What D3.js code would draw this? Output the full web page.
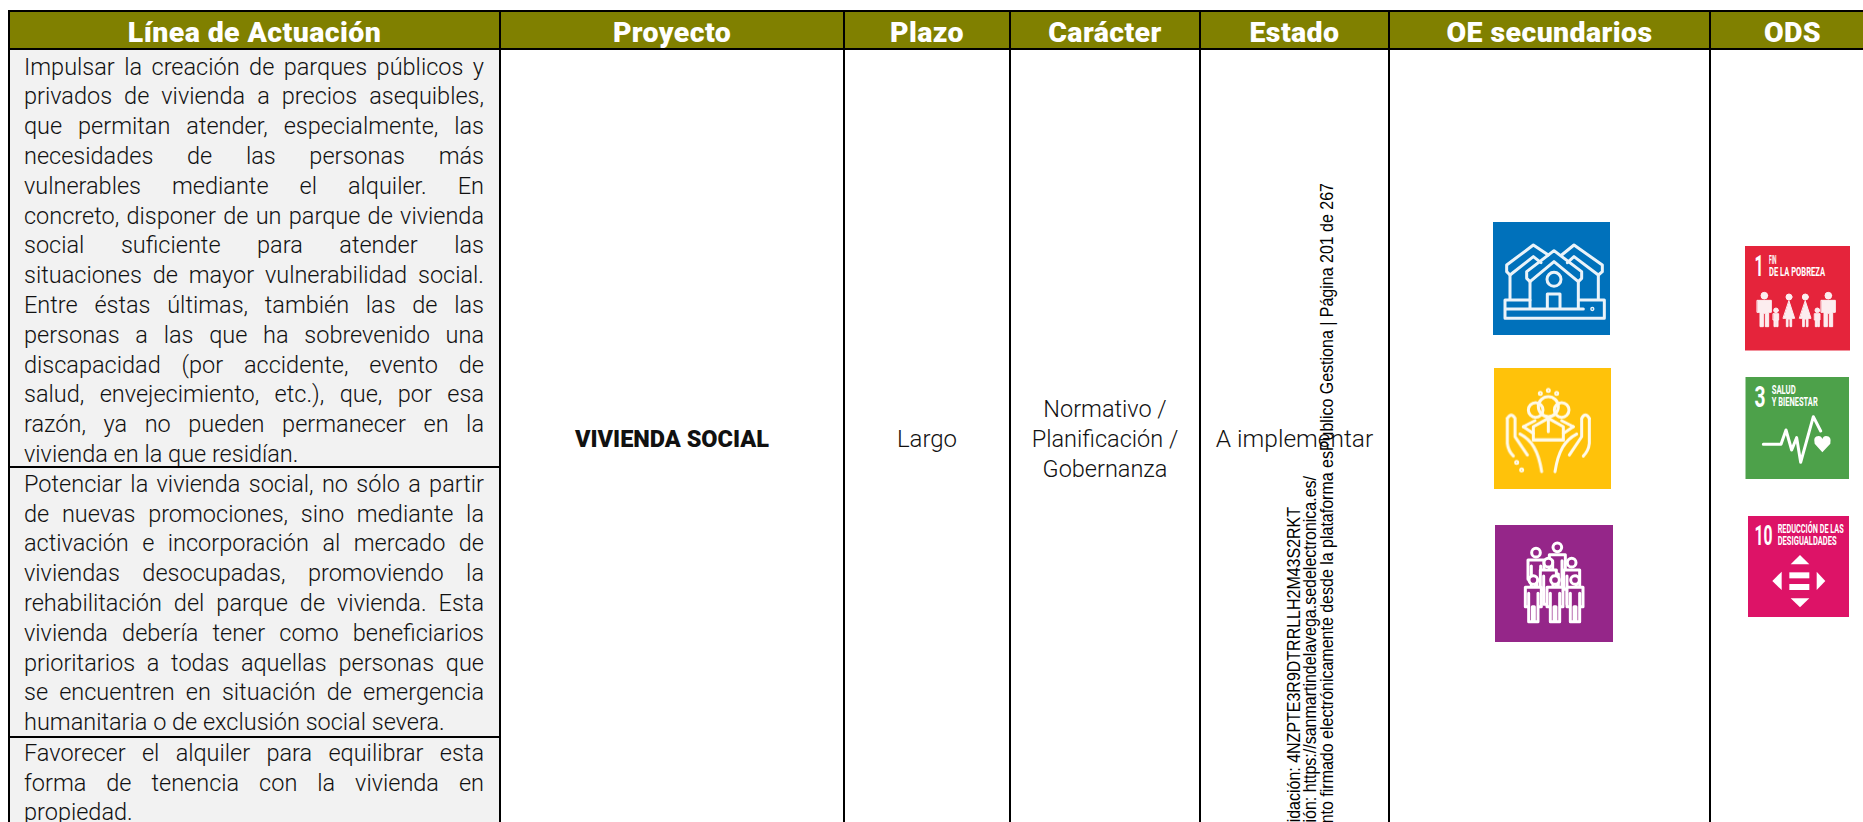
<!DOCTYPE html>
<html>
<head>
<meta charset="utf-8">
<script src="https://cdn.jsdelivr.net/npm/d3@7"></script>
<style>
  html, body { margin: 0; padding: 0; background: #fff; overflow: hidden; }
  svg { display: block; }
  text { font-family: Roboto, sans-serif; }
</style>
</head>
<body>
<script>
const headers = ["Línea de Actuación", "Proyecto", "Plazo", "Carácter", "Estado", "OE secundarios", "ODS"];

const linea1 = [
  "Impulsar la creación de parques públicos y",
  "privados de vivienda a precios asequibles,",
  "que permitan atender, especialmente, las",
  "necesidades de las personas más",
  "vulnerables mediante el alquiler. En",
  "concreto, disponer de un parque de vivienda",
  "social suficiente para atender las",
  "situaciones de mayor vulnerabilidad social.",
  "Entre éstas últimas, también las de las",
  "personas a las que ha sobrevenido una",
  "discapacidad (por accidente, evento de",
  "salud, envejecimiento, etc.), que, por esa",
  "razón, ya no pueden permanecer en la",
  "vivienda en la que residían."
];
const linea2 = [
  "Potenciar la vivienda social, no sólo a partir",
  "de nuevas promociones, sino mediante la",
  "activación e incorporación al mercado de",
  "viviendas desocupadas, promoviendo la",
  "rehabilitación del parque de vivienda. Esta",
  "vivienda debería tener como beneficiarios",
  "prioritarios a todas aquellas personas que",
  "se encuentren en situación de emergencia",
  "humanitaria o de exclusión social severa."
];
const linea3 = [
  "Favorecer el alquiler para equilibrar esta",
  "forma de tenencia con la vivienda en",
  "propiedad."
];
const proyecto = ["VIVIENDA SOCIAL"];
const plazo = ["Largo"];
const caracter = ["Normativo /", "Planificación /", "Gobernanza"];
const estado = ["A implementar"];
const watermark = [
  "Código Validación: 4NZPTE3R9DTRRLLH2M43S2RKT",
  "Verificación: https://sanmartindelavega.sedelectronica.es/",
  "Documento firmado electrónicamente desde la plataforma esPublico Gestiona | Página 201 de 267"
];

const width = 1863, height = 822;

// column edges, piecewise over the column index
const colX = d3.scaleLinear().domain(d3.range(8)).range([9, 500, 844, 1010, 1200, 1389, 1710, 1875]);
const colMid = i => (colX(i) + colX(i + 1)) / 2;
// baseline of text line n, line pitch of the source document
const lineY = d3.scaleLinear().domain([0, 1]).range([0, 29.8]);

const tableTop = 11, headBottom = 49, row2Top = 467, row3Top = 737;

const svg = d3.select("body").append("svg").attr("width", width).attr("height", height);

const defs = svg.append("defs");
defs.append("filter").attr("id", "soft").append("feGaussianBlur").attr("stdDeviation", 1.5);

// backgrounds
svg.append("rect").attr("x", colX(0)).attr("y", tableTop).attr("width", width - colX(0) + 5).attr("height", headBottom - tableTop).attr("fill", "#808000");
svg.append("rect").attr("x", colX(0)).attr("y", headBottom).attr("width", colX(1) - colX(0)).attr("height", height - headBottom).attr("fill", "#f2f2f2");

svg.selectAll("text.head").data(headers).join("text")
  .attr("class", "head")
  .attr("x", (d, i) => colMid(i))
  .attr("y", 41.5)
  .attr("text-anchor", "middle")
  .attr("font-size", 28.5)
  .attr("font-weight", 900)
  .attr("letter-spacing", 0.4)
  .attr("fill", "#fff")
  .text(d => d);

// justified text of the first column
function paragraph(lines, firstBaseline) {
  const x0 = 24, x1 = 484;
  svg.append("g").selectAll("text").data(lines).join("text")
    .attr("x", x0)
    .attr("y", (d, i) => firstBaseline + lineY(i))
    .attr("font-size", 23.5)
    .attr("font-weight", 300)
    .attr("fill", "#111")
    .text(d => d)
    .each(function(d, i) {
      if (i === lines.length - 1) return;
      const gaps = d.split(" ").length - 1;
      const natural = this.getComputedTextLength();
      d3.select(this).attr("word-spacing", (x1 - x0 - natural) / gaps);
    });
}
paragraph(linea1, 74.5);
paragraph(linea2, 491.7);
paragraph(linea3, 760.7);

// centred cells
function centred(lines, col, mid, opts = {}) {
  svg.append("g").selectAll("text").data(lines).join("text")
    .attr("x", colMid(col))
    .attr("y", (d, i) => mid + lineY(i - (lines.length - 1) / 2) + 8)
    .attr("text-anchor", "middle")
    .attr("font-size", opts.size || 23.5)
    .attr("font-weight", opts.weight || 300)
    .attr("fill", "#111")
    .text(d => d);
}
centred(proyecto, 1, 439, { size: 23.5, weight: 900 });
centred(plazo, 2, 439, { size: 24 });
centred(caracter, 3, 439);
centred(estado, 4, 439, { size: 24.5 });

// grid lines
const vLines = d3.range(0, 7);
svg.selectAll("line.v").data(vLines).join("line")
  .attr("class", "v")
  .attr("x1", d => colX(d)).attr("x2", d => colX(d))
  .attr("y1", tableTop - 1).attr("y2", height)
  .attr("stroke", "#000").attr("stroke-width", 2);
svg.selectAll("line.h").data([tableTop, headBottom]).join("line")
  .attr("class", "h")
  .attr("x1", colX(0)).attr("x2", width)
  .attr("y1", d => d).attr("y2", d => d)
  .attr("stroke", "#000").attr("stroke-width", 2);
svg.selectAll("line.r").data([row2Top, row3Top]).join("line")
  .attr("class", "r")
  .attr("x1", colX(0)).attr("x2", colX(1))
  .attr("y1", d => d).attr("y2", d => d)
  .attr("stroke", "#000").attr("stroke-width", 2);

// tile with white artwork. Artwork is written in the 3x crop coordinates,
// so ox/oy are the crop corner.
function tile(x, y, w, h, color, ox, oy) {
  svg.append("rect").attr("x", x).attr("y", y).attr("width", w).attr("height", h).attr("fill", color);
  return svg.append("g")
    .attr("transform", `translate(${ox},${oy}) scale(${1 / 3})`)
    .attr("fill", "none").attr("stroke", "#fff").attr("stroke-linejoin", "round").attr("stroke-linecap", "round");
}
const soft = g => g.append("g").attr("filter", "url(#soft)").attr("stroke-width", 9).attr("opacity", 0.92);

// OE 1: houses
const house = soft(tile(1493, 222, 117, 113, "#0071bb", 1470, 210));
house.selectAll("path").data([
  "M120,268V195L110,185V165L190,105L235,135",
  "M120,195L190,140L213,158",
  "M385,268V195L397,185V165L312,105L275,135",
  "M385,195L312,140L292,158",
  "M180,295V215L170,205V185L252,122L335,185V205L325,215V295",
  "M180,215L252,155L325,215",
  "M232,295V252H270V295",
  "M105,270H180M325,270H403V325H105V270M105,297H340"
]).join("path").attr("d", d => d);
house.append("circle").attr("cx", 252).attr("cy", 208).attr("r", 21);
house.append("circle").attr("cx", 367).attr("cy", 297).attr("r", 2);

// OE 2: hands holding people
const hands = soft(tile(1494, 368, 117, 121, "#ffc20a", 1470, 210));
const handPaths = [
  "M112,625Q124,605 135,625V680L172,735",
  "M112,625V700Q114,722 130,738",
  "M150,672C185,690 205,722 215,785"
];
hands.selectAll("path.l").data(handPaths).join("path").attr("class", "l").attr("d", d => d);
hands.selectAll("path.r").data(handPaths).join("path").attr("class", "r").attr("d", d => d)
  .attr("transform", "translate(470,0) scale(-1,1)");
hands.selectAll("circle").data([[235, 590, 30], [197, 600, 22], [275, 600, 22], [235, 541, 3], [211, 550, 3], [260, 550, 3], [140, 757, 3], [155, 780, 3]])
  .join("circle").attr("cx", d => d[0]).attr("cy", d => d[1]).attr("r", d => d[2]);
hands.selectAll("path.b").data([
  "M190,690V650L235,625L280,650V690Z",
  "M160,650L195,632M310,650L275,632",
  "M160,650L190,670M310,650L280,670",
  "M235,625V665M190,690H280"
]).join("path").attr("class", "b").attr("d", d => d);

// OE 3: group of people, crop starts at 1470,500. Drawn back to front,
// the purple fill hides the legs of the back row.
const people = soft(tile(1495, 525, 118, 117, "#952689", 1470, 500)).attr("fill", "#952689").attr("opacity", 1);
const crowd = [[198, 158], [262, 142], [305, 188], [235, 188], [190, 240], [255, 240], [315, 240]];
const figure = people.selectAll("g").data(crowd).join("g")
  .attr("transform", d => `translate(${d[0]},${d[1]})`);
figure.append("path")
  .attr("d", "M-24,22H24V80H14V125H3V80H-3V125H-14V80H-24Z M-14,40V80 M14,40V80");
figure.append("circle").attr("r", 13);

// small condensed caption of the ODS tiles
function odsLabel(g, x, y, w, size, label) {
  g.append("text")
    .attr("x", x).attr("y", y)
    .attr("textLength", w).attr("lengthAdjust", "spacingAndGlyphs")
    .attr("font-size", size).attr("font-weight", 700)
    .attr("fill", "#fff")
    .text(label);
}
const odsText = svg.append("g");

// ODS 1
const red = soft(tile(1745, 246, 105, 104.5, "#e5243b", 1700, 235)).attr("stroke-width", 3).attr("fill", "#fff");
red.selectAll("circle").data([[193, 182, 10], [267, 186, 9], [316, 186, 9], [385, 182, 10], [228, 226, 7], [352, 226, 7]])
  .join("circle").attr("cx", d => d[0]).attr("cy", d => d[1]).attr("r", d => d[2]);
red.selectAll("path").data([
  "M172,196H214V232H206V275H196V235H190V275H180V232H172Z",
  "M267,198L284,250H275V275H270V252H264V275H259V250H250Z",
  "M316,198L333,250H324V275H319V252H313V275H308V250H299Z",
  "M364,196H406V232H398V275H388V235H382V275H372V232H364Z",
  "M220,236H236V255H234V275H229V258H227V275H222V255H220Z",
  "M344,236H360V255H358V275H353V258H351V275H346V255H344Z"
]).join("path").attr("d", d => d);
odsLabel(odsText, 1754.5, 275.7, 9, 29, "1");
odsLabel(odsText, 1769, 264.3, 7.5, 12.5, "FIN");
odsLabel(odsText, 1769, 276, 56, 12.5, "DE LA POBREZA");

// ODS 3
const green = tile(1745.5, 377, 103.5, 102, "#4da14a", 1700, 365).attr("stroke-width", 9);
green.append("path").attr("d", "M190,238H243L258,195L275,255L290,218L302,292L340,155L362,198");
green.append("path").attr("stroke-width", 0).attr("fill", "#fff")
  .attr("d", "M367,262L344,236Q338,214 356,213Q364,213 367,222Q370,213 378,213Q396,214 391,236Z");
odsLabel(odsText, 1754.5, 406.7, 11, 29, "3");
odsLabel(odsText, 1771.7, 394.3, 24, 12.5, "SALUD");
odsLabel(odsText, 1771.7, 405.7, 46, 12.5, "Y BIENESTAR");

// ODS 10
const pink = tile(1748, 516, 101, 101, "#dd1367", 1700, 365).attr("stroke-width", 0).attr("fill", "#fff");
pink.selectAll("path").data([
  "M300,570L272,598H328Z", "M300,727L272,700H328Z",
  "M245,620V675L217,648Z", "M350,620V675L376,648Z",
  "M268,622H328V640H268Z", "M268,657H328V675H268Z"
]).join("path").attr("d", d => d);
odsLabel(odsText, 1754.5, 545, 18, 27, "10");
odsLabel(odsText, 1777.7, 532.7, 66, 12.5, "REDUCCIÓN DE LAS");
odsLabel(odsText, 1777.7, 545, 59, 12.5, "DESIGUALDADES");
odsText.raise();

// vertical stamp of the e-signature platform, runs off the page bottom.
// The scan stretches it across the reading direction.
const stampX = [1300, 1315.5, 1332.5];
const stampEnd = [507, 476, 183];
svg.append("g").selectAll("text").data(watermark).join("text")
  .attr("transform", (d, i) => `translate(${stampX[i]},${stampEnd[i]}) rotate(-90) scale(1,1.12)`)
  .attr("text-anchor", "end")
  .attr("font-size", 16)
  .attr("fill", "#000")
  .style("font-family", "'Liberation Sans', sans-serif")
  .text(d => d);
</script>
</body>
</html>
